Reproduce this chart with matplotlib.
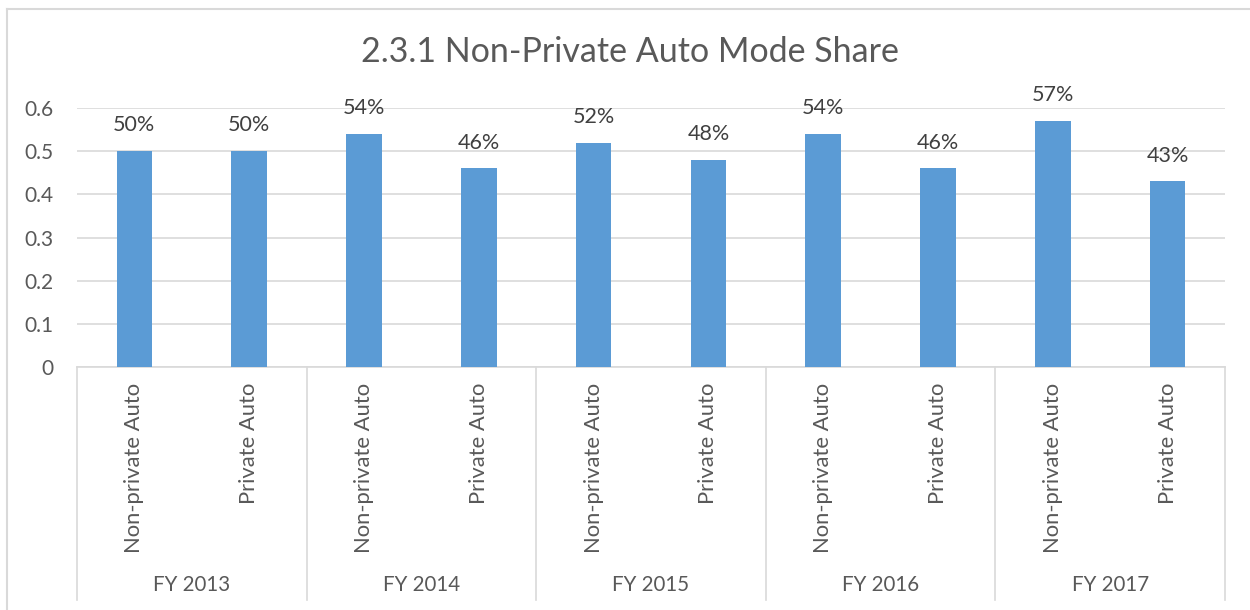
import matplotlib
matplotlib.use("Agg")
import matplotlib.pyplot as plt
from matplotlib.lines import Line2D

title = "2.3.1 Non-Private Auto Mode Share"
years = ["FY 2013", "FY 2014", "FY 2015", "FY 2016", "FY 2017"]
modes = ["Non-private Auto", "Private Auto"]
non_private = [0.50, 0.54, 0.52, 0.54, 0.57]
private = [0.50, 0.46, 0.48, 0.46, 0.43]

plt.rcParams['font.family'] = ['Lato', 'DejaVu Sans']

values = []
labels = []
for a, b in zip(non_private, private):
    values += [a, b]
    labels += modes

W, H = 1250, 610
fig = plt.figure(figsize=(W / 100, H / 100), dpi=100)
x0, x1 = 77, 1225
y_top, y_bot = 108, 367
ax = fig.add_axes([x0 / W, 1 - y_bot / H, (x1 - x0) / W, (y_bot - y_top) / H])

pos = list(range(len(values)))
bars = ax.bar(pos, values, width=0.31, color="#5b9bd5", zorder=3)
ax.set_xlim(-0.5, len(values) - 0.5)
ax.set_ylim(0, 0.6)
ax.set_yticks([0, 0.1, 0.2, 0.3, 0.4, 0.5, 0.6])
ax.set_yticklabels(["0", "0.1", "0.2", "0.3", "0.4", "0.5", "0.6"])
ax.tick_params(axis='y', length=0, labelsize=15, labelcolor="#595959", pad=17)
ax.grid(axis='y', color="#d9d9d9", linewidth=1.2, zorder=0)
for s in ["top", "right", "left"]:
    ax.spines[s].set_visible(False)
ax.spines["bottom"].set_color("#d9d9d9")
ax.spines["bottom"].set_linewidth(1.2)
ax.set_xticks([])

for b, v in zip(bars, values):
    ax.annotate(f"{round(v * 100)}%", (b.get_x() + b.get_width() / 2, v),
                xytext=(0, 18.5), textcoords="offset points", ha="center",
                va="center", fontsize=15.5, color="#404040")

# category labels (rotated)
trans = ax.get_xaxis_transform()
for p, lab in zip(pos, labels):
    ax.text(p, -(383 - y_bot) / (y_bot - y_top), lab, rotation=90, ha="center",
            va="top", fontsize=15.8, color="#595959", transform=trans)

# group labels and separators
sep_bottom = -(600 - y_bot) / (y_bot - y_top)
for i, yr in enumerate(years):
    ax.text(2 * i + 0.5, -(585 - y_bot) / (y_bot - y_top), yr, ha="center",
            va="center", fontsize=14.8, color="#595959", transform=trans)
for i in range(len(years) + 1):
    ax.add_line(Line2D([2 * i - 0.5, 2 * i - 0.5], [0, sep_bottom],
                       transform=trans, color="#d9d9d9", linewidth=1.2,
                       clip_on=False))

fig.text(630 / W, 1 - 52 / H, title, ha="center", va="center", fontsize=24.5,
         color="#595959")

# chart frame (left and top edges visible)
fig.add_artist(Line2D([7 / W, 7 / W], [0, 1 - 9 / H], transform=fig.transFigure,
                      color="#d9d9d9", linewidth=1.5))
fig.add_artist(Line2D([7 / W, 1], [1 - 9 / H, 1 - 9 / H], transform=fig.transFigure,
                      color="#d9d9d9", linewidth=1.5))

fig.savefig("out.png", dpi=100, facecolor="white")
